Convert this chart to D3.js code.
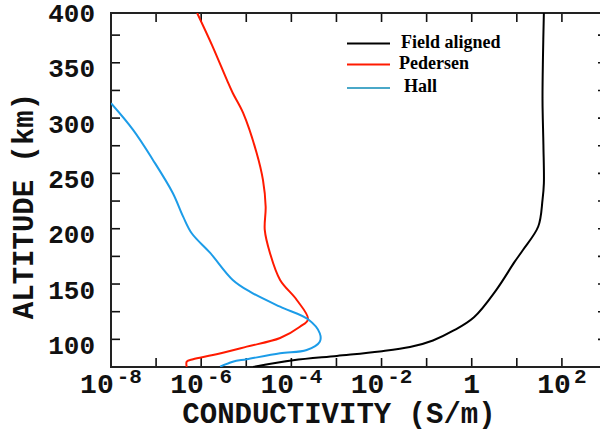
<!DOCTYPE html>
<html>
<head>
<meta charset="utf-8">
<script src="https://cdn.jsdelivr.net/npm/d3@7"></script>
<style>
  body { margin: 0; background: #fff; }
  svg { display: block; }
</style>
</head>
<body>
<svg id="chart" width="600" height="432"></svg>
<script>
// altitudes (km) and log10 conductivity (S/m)
const fieldAlt = [80, 86, 90, 94, 98, 104, 113, 125, 150, 175, 186, 207, 231, 246, 280, 321, 360, 400];
const fieldLog = [-4.85, -3.96, -2.99, -2.04, -1.37, -0.86, -0.4, 0.05, 0.55, 0.95, 1.14, 1.475, 1.57, 1.6, 1.59, 1.57, 1.58, 1.6];

const pedAlt = [80, 84.8, 87, 90.8, 98.4, 106.2, 116.4, 123.1, 140.6, 158.7, 183.1, 203.9, 224.9, 249.1, 273.5, 309.7, 327.7, 339.5, 371, 400];
const pedLog = [-6.32, -6.32, -6.18, -5.74, -4.99, -4.25, -3.81, -3.63, -3.88, -4.25, -4.475, -4.59, -4.57, -4.63, -4.77, -5.07, -5.30, -5.43, -5.76, -6.09];

const hallAlt = [80.3, 84.8, 87, 92.4, 95.4, 102.9, 110.5, 123.1, 134.5, 148.1, 158.7, 183.1, 200.9, 215.9, 237.3, 267.2, 294.3, 318.4];
const hallLog = [-5.58, -5.30, -4.99, -4.25, -3.66, -3.37, -3.37, -3.63, -4.25, -4.92, -5.30, -5.80, -6.21, -6.40, -6.63, -7.07, -7.51, -8.0];

const xTickExp = [-8, -7, -6, -5, -4, -3, -2, -1, 0, 1, 2, 3];
const xLabelExp = [-8, -6, -4, -2, 0, 2];
const yTicks = d3.range(80, 401, 25);
const yLabels = [100, 150, 200, 250, 300, 350, 400];

const legendNames = ["Field aligned", "Pedersen", "Hall"];
const legendColors = ["#000000", "#ff1a00", "#4aa8c8"];

const svg = d3.select("#chart");
const pL = 111, pR = 607, pT = 13, pB = 367;

const x = d3.scaleLog().domain([1e-8, 1e3]).range([pL, pR]);
const y = d3.scaleLinear().domain([80, 400]).range([pB, pT]);

svg.append("defs").append("clipPath").attr("id", "plot")
  .append("rect").attr("x", pL).attr("y", pT)
  .attr("width", pR - pL).attr("height", pB - pT);

// ticks, all inward
const tickLen = 9;
const ticks = svg.append("g").attr("stroke", "#111").attr("stroke-width", 1.6);
xTickExp.forEach(e => {
  const px = x(Math.pow(10, e));
  ticks.append("line").attr("x1", px).attr("x2", px).attr("y1", pB).attr("y2", pB - tickLen);
  ticks.append("line").attr("x1", px).attr("x2", px).attr("y1", pT).attr("y2", pT + tickLen);
});
yTicks.forEach(v => {
  const py = y(v);
  ticks.append("line").attr("x1", pL).attr("x2", pL + tickLen).attr("y1", py).attr("y2", py);
  ticks.append("line").attr("x1", pR).attr("x2", pR - tickLen).attr("y1", py).attr("y2", py);
});

// frame
svg.append("rect").attr("x", pL).attr("y", pT)
  .attr("width", pR - pL).attr("height", pB - pT)
  .attr("fill", "none").attr("stroke", "#222").attr("stroke-width", 2);

// curves
function pts(alts, logs) { return alts.map((a, i) => [Math.pow(10, logs[i]), a]); }
const line = d3.line().x(d => x(d[0])).y(d => y(d[1])).curve(d3.curveCatmullRom.alpha(0.5));
const curves = svg.append("g").attr("clip-path", "url(#plot)").attr("fill", "none").attr("stroke-width", 2);
curves.append("path").attr("d", line(pts(fieldAlt, fieldLog))).attr("stroke", "#000");
curves.append("path").attr("d", line(pts(pedAlt, pedLog))).attr("stroke", "#ff1a00");
curves.append("path").attr("d", line(pts(hallAlt, hallLog))).attr("stroke", "#1c9ce8");

// tick labels
const mono = "'Liberation Mono', 'Courier New', monospace";
yLabels.forEach(v => {
  svg.append("text").attr("x", 95).attr("y", y(v) + 9)
    .attr("text-anchor", "end").attr("font-family", mono).attr("font-weight", "bold")
    .attr("font-size", 26).attr("fill", "#111").text(v);
});
xLabelExp.forEach(e => {
  const t = svg.append("text").attr("x", x(Math.pow(10, e))).attr("y", 393)
    .attr("text-anchor", "middle").attr("font-family", mono).attr("font-weight", "bold")
    .attr("font-size", 28).attr("fill", "#111");
  if (e === 0) { t.text("1"); return; }
  t.append("tspan").text("10");
  t.append("tspan").attr("dy", -10).attr("dx", 3).attr("font-size", 21).text(String(e));
});

// axis titles
svg.append("text").attr("x", 339).attr("y", 423)
  .attr("text-anchor", "middle").attr("font-family", mono).attr("font-weight", "bold")
  .attr("font-size", 29).attr("fill", "#111").text("CONDUCTIVITY (S/m)");
svg.append("text").attr("transform", "translate(33,206) rotate(-90)")
  .attr("text-anchor", "middle").attr("font-family", mono).attr("font-weight", "bold")
  .attr("font-size", 29).attr("fill", "#111").text("ALTITUDE (km)");

// legend
const legendY = [43.5, 64.5, 88];
const legendTx = [401, 399, 404];
legendNames.forEach((name, i) => {
  svg.append("line").attr("x1", 347).attr("x2", 390)
    .attr("y1", legendY[i]).attr("y2", legendY[i])
    .attr("stroke", legendColors[i]).attr("stroke-width", 2);
  svg.append("text").attr("x", legendTx[i]).attr("y", legendY[i] + 4)
    .attr("font-family", "'Liberation Serif', 'Times New Roman', serif")
    .attr("font-weight", "bold").attr("font-size", 18).attr("fill", "#000").text(name);
});
</script>
</body>
</html>
